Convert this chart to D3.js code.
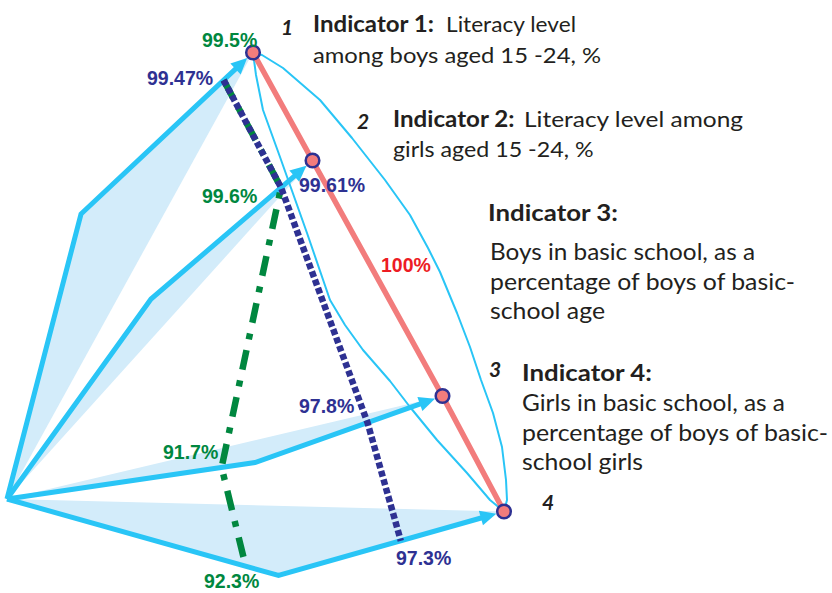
<!DOCTYPE html>
<html>
<head>
<meta charset="utf-8">
<script src="https://cdn.jsdelivr.net/npm/d3@7/dist/d3.min.js"></script>
<style>
  body { margin: 0; background: #fff; }
  svg { display: block; }
</style>
</head>
<body>
<svg width="832" height="593"></svg>
<script>
// Indicators (one bent axis each)
const indicators = ["1", "2", "3", "4"];

// Series values on every indicator, %
const seriesNavy = [99.47, 99.61, 97.8, 97.3];
const seriesGreen = [99.5, 99.6, 91.7, 92.3];
const targetValue = 100;

// Value breakpoints of each bent axis: origin, bend, tip
const axisDomains = [[80, 96.9, 100], [80, 98.0, 100], [73.7, 94.5, 100], [79.2, 94.1, 100]];

// Diagram frame geometry (frame units 0..100)
const origin = [0, 89.4];
const axisBends = [[14.8, 32.4], [28.8, 49.4], [49.6, 82.1], [54.3, 104.7]];
const axisTips = [[49.2, 0.1], [61.1, 21.7], [87.1, 68.8], [99.4, 91.9]];

// Hand drawn envelope around the target line
const outerEnvelope = [[49.2, 0.1], [51, 0.6], [55.2, 3.2], [62.6, 9.6], [69, 17.2], [75.6, 25.6],
  [80.6, 32.6], [84.2, 39.2], [86.6, 44], [90, 52.2], [92.6, 59], [94.8, 65.6], [97.2, 72.2],
  [99, 79], [99.8, 85.6], [100, 89.6], [99.4, 91.9]];
const innerEnvelope = [[49.2, 0.1], [49.8, 4.6], [51.2, 11.6], [54.6, 21], [60, 36.2], [64.6, 49.6],
  [67.6, 54.6], [71.2, 59.6], [76.6, 65.8], [80.6, 71], [86, 77.6], [92, 84.2], [96.6, 89.6], [99.4, 91.9]];

const COLORS = {
  axis: "#29c5f6", shade: "#d3ecfa", target: "#f27c7c", navy: "#2e3192",
  green: "#00873f", red: "#ed1c24", text: "#231f20"
};

const svg = d3.select("svg");
const x = d3.scaleLinear().domain([0, 100]).range([7, 507]);
const y = d3.scaleLinear().domain([0, 100]).range([52, 552]);
const px = p => [x(p[0]), y(p[1])];

const o = px(origin);
const bends = axisBends.map(px);
const tips = axisTips.map(px);

// one piecewise scale per axis: value -> point along the bent axis
const axisScales = indicators.map((d, i) =>
  d3.scaleLinear().domain(axisDomains[i]).range([o, bends[i], tips[i]]));

const line = d3.line();
const R = 6.8;

// shaded wedge between the bent axis and its chord
svg.append("g").selectAll("path")
  .data(indicators)
  .join("path")
  .attr("d", (d, i) => line([o, bends[i], tips[i]]) + "Z")
  .attr("fill", COLORS.shade);

// arrow geometry
function arrow(i) {
  const b = bends[i], t = tips[i];
  const dx = t[0] - b[0], dy = t[1] - b[1];
  const L = Math.hypot(dx, dy);
  const ux = dx / L, uy = dy / L, nx = -uy, ny = ux;
  const p = [t[0] - ux * (R + 1.2), t[1] - uy * (R + 1.2)];
  const base = [p[0] - ux * 16, p[1] - uy * 16];
  return {
    shaft: [o, b, [base[0] + ux * 2, base[1] + uy * 2]],
    head: [p, [base[0] + nx * 7.5, base[1] + ny * 7.5], [base[0] - nx * 7.5, base[1] - ny * 7.5]]
  };
}

const axes = svg.append("g");
indicators.forEach((d, i) => {
  const a = arrow(i);
  axes.append("path")
    .attr("d", line(a.shaft))
    .attr("fill", "none")
    .attr("stroke", COLORS.axis)
    .attr("stroke-width", 5)
    .attr("stroke-linejoin", "miter");
  axes.append("path")
    .attr("d", line(a.head) + "Z")
    .attr("fill", COLORS.axis);
});

// envelope lines
[outerEnvelope, innerEnvelope].forEach(env => {
  svg.append("path")
    .attr("d", line(env.map(px)))
    .attr("fill", "none")
    .attr("stroke", COLORS.axis)
    .attr("stroke-width", 2)
    .attr("stroke-linejoin", "round");
});

// target line through all tips (100%)
svg.append("path")
  .attr("d", line(axisScales.map(s => s(targetValue))))
  .attr("fill", "none")
  .attr("stroke", COLORS.target)
  .attr("stroke-width", 5.5);

// series lines
const greenPts = seriesGreen.map((v, i) => axisScales[i](v));
const navyPts = seriesNavy.map((v, i) => axisScales[i](v));

svg.append("path")
  .attr("d", line(greenPts))
  .attr("fill", "none")
  .attr("stroke", COLORS.green)
  .attr("stroke-width", 6.5)
  .attr("stroke-dasharray", "20 11 6 11");

svg.append("path")
  .attr("d", line(navyPts))
  .attr("fill", "none")
  .attr("stroke", COLORS.navy)
  .attr("stroke-width", 6.5)
  .attr("stroke-dasharray", "6 2.8");

// indicator points
svg.append("g").selectAll("circle")
  .data(indicators)
  .join("circle")
  .attr("cx", (d, i) => axisScales[i](targetValue)[0])
  .attr("cy", (d, i) => axisScales[i](targetValue)[1])
  .attr("r", R)
  .attr("fill", COLORS.target)
  .attr("stroke", COLORS.navy)
  .attr("stroke-width", 2.5);

// value labels (left x, baseline)
const navyLabelPos = [[147, 85], [299, 192], [299, 413], [396, 565]];
const greenLabelPos = [[202, 47], [202, 203], [163, 459], [204, 588]];

const valueLabels = svg.append("g")
  .attr("font-family", "'Liberation Sans', Arial, sans-serif")
  .attr("font-weight", "bold")
  .attr("font-size", "19.5px");

seriesNavy.forEach((v, i) => valueLabels.append("text")
  .attr("x", navyLabelPos[i][0]).attr("y", navyLabelPos[i][1])
  .attr("fill", COLORS.navy).text(v + "%"));
seriesGreen.forEach((v, i) => valueLabels.append("text")
  .attr("x", greenLabelPos[i][0]).attr("y", greenLabelPos[i][1])
  .attr("fill", COLORS.green).text(v + "%"));
valueLabels.append("text")
  .attr("x", 381).attr("y", 272)
  .attr("fill", COLORS.red).text(targetValue + "%");

// point numbers
const numberPos = [[281, 35], [357, 128.5], [489, 377], [542, 510]];
svg.append("g").selectAll("text")
  .data(indicators)
  .join("text")
  .attr("x", (d, i) => numberPos[i][0])
  .attr("y", (d, i) => numberPos[i][1])
  .attr("font-family", "Lato, sans-serif")
  .attr("font-weight", "bold")
  .attr("font-style", "italic")
  .attr("font-size", "21px")
  .attr("fill", COLORS.text)
  .text(d => d);

// indicator descriptions: text, x, baseline, width, bold, size
const descRows = [
  ["Indicator 1:", 313, 31.7, 121, true, 22],
  ["Literacy level", 446, 31.7, 130, false, 22],
  ["among boys aged 15 -24, %", 313, 63, 288, false, 22],
  ["Indicator 2:", 393, 126.7, 121.5, true, 22],
  ["Literacy level among", 524, 126.7, 219, false, 22],
  ["girls aged 15 -24, %", 393, 157, 200.5, false, 22],
  ["Indicator 3:", 488, 221, 130, true, 22],
  ["Boys in basic school, as a", 490, 259.5, 265, false, 23],
  ["percentage of boys of basic-", 490, 289.5, 305, false, 23],
  ["school age", 490, 318.5, 115, false, 23],
  ["Indicator 4:", 522, 381, 130, true, 22],
  ["Girls in basic school, as a", 522, 411, 263, false, 23],
  ["percentage of boys of basic-", 522, 441, 306, false, 23],
  ["school girls", 522, 470, 121, false, 23]
];

svg.append("g").selectAll("text")
  .data(descRows)
  .join("text")
  .attr("x", d => d[1])
  .attr("y", d => d[2])
  .attr("textLength", d => d[3])
  .attr("lengthAdjust", "spacingAndGlyphs")
  .attr("font-family", "Lato, sans-serif")
  .attr("font-weight", d => d[4] ? "bold" : "normal")
  .attr("font-size", d => d[5] + "px")
  .attr("fill", COLORS.text)
  .text(d => d[0]);
</script>
</body>
</html>
